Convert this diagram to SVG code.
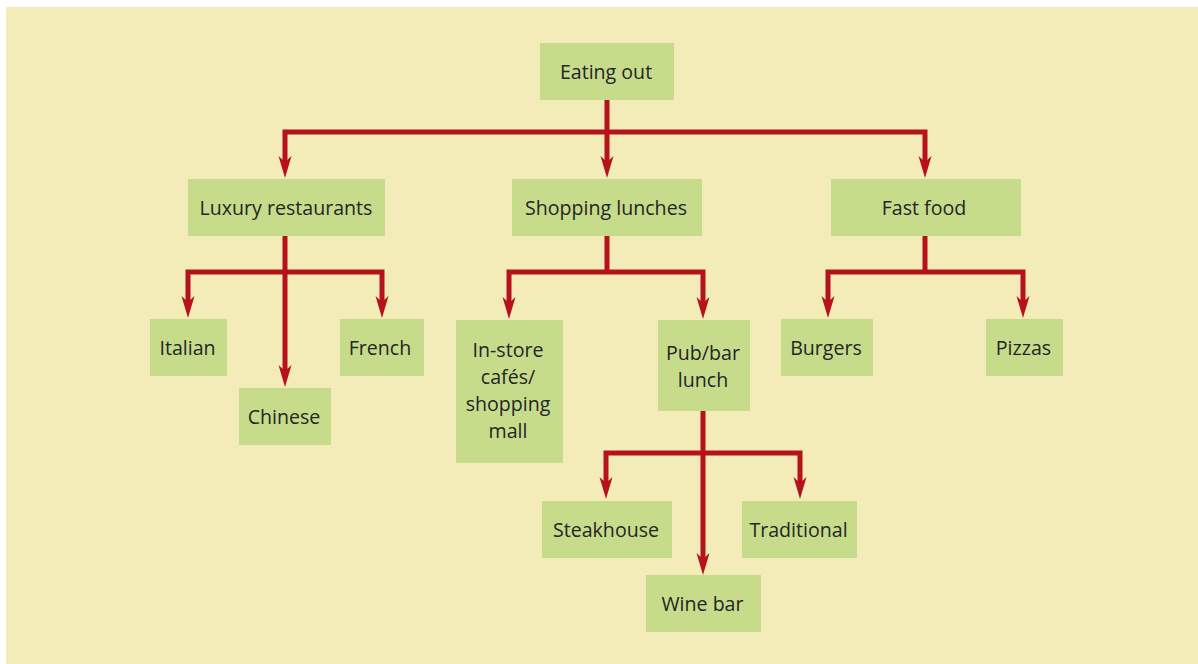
<svg xmlns="http://www.w3.org/2000/svg" width="1198" height="664" viewBox="0 0 1198 664">
  <defs>
    <style>
      .bg { fill: #f3ecb8; }
      .node rect { fill: #c7dc8b; }
      .node text { font-family: "Open Sans", "DejaVu Sans", sans-serif; font-size: 19.6px; fill: #252525; text-anchor: middle; dominant-baseline: central; }
      .link { fill: none; stroke: #b5121b; stroke-width: 5; stroke-linejoin: miter; }
      .arrow { marker-end: url(#head); }
      .both { marker-start: url(#head); marker-end: url(#head); }
    </style>
    <marker id="head" viewBox="0 -7 22 14" markerWidth="22" markerHeight="14" refX="12" refY="0" markerUnits="userSpaceOnUse" orient="auto-start-reverse">
      <path d="M0,-6.5 L22,0 L0,6.5 L6,0 z" fill="#b5121b"/>
    </marker>
  </defs>

  <rect class="bg" x="6" y="7" width="1192" height="657"/>

  <g id="connectors">
    <!-- root to first level -->
    <path class="link arrow" d="M607,100 V168"/>
    <path class="link both" d="M285,168 V132 H925 V168"/>
    <!-- luxury restaurants -->
    <path class="link arrow" d="M285,236 V377"/>
    <path class="link both" d="M188,308 V272 H382 V308"/>
    <!-- shopping lunches -->
    <path class="link" d="M607,236 V272"/>
    <path class="link both" d="M509,309 V272 H703 V309"/>
    <!-- pub/bar lunch -->
    <path class="link arrow" d="M703,411 V565"/>
    <path class="link both" d="M606,489 V453 H800 V489"/>
    <!-- fast food -->
    <path class="link" d="M925,236 V272"/>
    <path class="link both" d="M828,308 V272 H1023 V308"/>
  </g>

  <g id="eating-out" class="node">
    <rect x="540" y="43" width="134" height="57"/>
    <text x="606" y="71">Eating out</text>
  </g>
  <g id="luxury" class="node">
    <rect x="188" y="179" width="197" height="57"/>
    <text x="286" y="207">Luxury restaurants</text>
  </g>
  <g id="shopping" class="node">
    <rect x="512" y="179" width="190" height="57"/>
    <text x="606" y="207">Shopping lunches</text>
  </g>
  <g id="fast-food" class="node">
    <rect x="831" y="179" width="190" height="57"/>
    <text x="924" y="207">Fast food</text>
  </g>
  <g id="italian" class="node">
    <rect x="150" y="319" width="77" height="57"/>
    <text x="187.5" y="347">Italian</text>
  </g>
  <g id="french" class="node">
    <rect x="340" y="319" width="84" height="57"/>
    <text x="380" y="347">French</text>
  </g>
  <g id="chinese" class="node">
    <rect x="239" y="388" width="92" height="57"/>
    <text x="284" y="416">Chinese</text>
  </g>
  <g id="in-store" class="node">
    <rect x="456" y="320" width="107" height="143"/>
    <text x="508" y="349">In-store</text>
    <text x="508" y="376">cafés/</text>
    <text x="508" y="403">shopping</text>
    <text x="508" y="430">mall</text>
  </g>
  <g id="pub-bar" class="node">
    <rect x="658" y="320" width="92" height="91"/>
    <text x="703" y="352">Pub/bar</text>
    <text x="703" y="379">lunch</text>
  </g>
  <g id="burgers" class="node">
    <rect x="781" y="319" width="92" height="57"/>
    <text x="826" y="347">Burgers</text>
  </g>
  <g id="pizzas" class="node">
    <rect x="986" y="319" width="77" height="57"/>
    <text x="1023.5" y="347">Pizzas</text>
  </g>
  <g id="steakhouse" class="node">
    <rect x="542" y="501" width="130" height="57"/>
    <text x="606" y="529">Steakhouse</text>
  </g>
  <g id="traditional" class="node">
    <rect x="742" y="501" width="115" height="57"/>
    <text x="798.5" y="529">Traditional</text>
  </g>
  <g id="wine-bar" class="node">
    <rect x="646" y="575" width="115" height="57"/>
    <text x="702.5" y="603">Wine bar</text>
  </g>
</svg>
